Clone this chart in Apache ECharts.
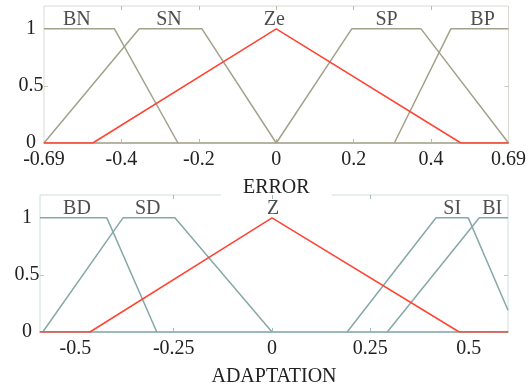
<!DOCTYPE html>
<html>
<head>
<meta charset="utf-8">
<script src="https://cdn.jsdelivr.net/npm/echarts@6/dist/echarts.min.js"></script>
<style>
    html,body{margin:0;padding:0;background:#fff;}
    #chart{width:529px;height:389px;}
</style>
</head>
<body>
<div id="chart"></div>
<script>
// ERROR panel: tick positions and what is printed under them
let errTickVals = [-0.6, -0.4, -0.2, 0, 0.2, 0.4, 0.6];
let errTickLabels = ['-0.69', '-0.4', '-0.2', '0', '0.2', '0.4', '0.69'];
// ADAPTATION panel ticks
let adaTickVals = [-0.5, -0.25, 0, 0.25, 0.5];
let adaTickLabels = ['-0.5', '-0.25', '0', '0.25', '0.5'];

// membership functions, ERROR
let bn = [[-0.6, 1], [-0.418, 1], [-0.254, 0]];
let sn = [[-0.6, 0], [-0.354, 1], [-0.192, 1], [0, 0]];
let ze = [[-0.6, 0], [-0.474, 0], [0, 1], [0.477, 0], [0.6, 0]];
let sp = [[0, 0], [0.195, 1], [0.374, 1], [0.6, 0]];
let bp = [[0.305, 0], [0.451, 1], [0.6, 1]];
let errNames = [[-0.515, 1.08, 'BN'], [-0.277, 1.08, 'SN'], [-0.005, 1.08, 'Ze'], [0.285, 1.08, 'SP'], [0.533, 1.08, 'BP']];

// membership functions, ADAPTATION
let bd = [[-0.59, 1], [-0.42, 1], [-0.293, 0]];
let sd = [[-0.583, 0], [-0.379, 1], [-0.247, 1], [0, 0]];
let z = [[-0.59, 0], [-0.463, 0], [0, 1], [0.476, 0], [0.6, 0]];
let si = [[0.191, 0], [0.417, 1], [0.499, 1], [0.6, 0.19]];
let bi = [[0.293, 0], [0.527, 1], [0.6, 1]];
let adaNames = [[-0.496, 1.08, 'BD'], [-0.316, 1.08, 'SD'], [0.003, 1.08, 'Z'], [0.458, 1.08, 'SI'], [0.56, 1.08, 'BI']];

let yTickVals = [0, 0.5, 1];

let chart = echarts.init(document.getElementById('chart'));
let font = "'Liberation Serif','DejaVu Serif',serif";
let olive = '#a2a28a';
let teal = '#86a8a6';
let red = '#ff4433';

function xAx(idx, vals, labels, min, max, name, lineColor, tick) {
    return [{
        type: 'value', gridIndex: idx, min: min, max: max, position: 'bottom',
        name: name, nameLocation: 'middle', nameGap: 35,
        nameTextStyle: {fontFamily: font, fontSize: 20, color: '#222',
            backgroundColor: '#fff', padding: [0, 22, 0, 22]},
        axisLine: {show: true, onZero: false, lineStyle: {color: lineColor, width: 1.5}},
        axisTick: {show: true, inside: true, length: 4, customValues: vals.slice(1, -1),
            lineStyle: {color: tick}},
        axisLabel: {customValues: vals, margin: 7, fontFamily: font, fontSize: 20, color: '#222',
            formatter: function (v) { return labels[vals.indexOf(v)]; }},
        splitLine: {show: false}
    }, {
        type: 'value', gridIndex: idx, min: min, max: max, position: 'top',
        axisLine: {show: false, onZero: false},
        axisTick: {show: true, inside: true, length: 4, customValues: vals.slice(1, -1),
            lineStyle: {color: tick}},
        axisLabel: {show: false}, splitLine: {show: false}
    }];
}

function yAx(idx, tick) {
    return [{
        type: 'value', gridIndex: idx, min: 0, max: 1.2, position: 'left',
        axisLine: {show: false, onZero: false},
        axisTick: {show: true, inside: true, length: 4, customValues: [0.5], lineStyle: {color: tick}},
        axisLabel: {customValues: yTickVals, align: 'center', margin: 13,
            fontFamily: font, fontSize: 20, color: '#222'},
        splitLine: {show: false}
    }, {
        type: 'value', gridIndex: idx, min: 0, max: 1.2, position: 'right',
        axisLine: {show: false, onZero: false},
        axisTick: {show: true, inside: true, length: 4, customValues: [0.5], lineStyle: {color: tick}},
        axisLabel: {show: false}, splitLine: {show: false}
    }];
}

function mf(data, xi, yi, color) {
    return {
        type: 'line', data: data, xAxisIndex: xi, yAxisIndex: yi,
        symbol: 'none', silent: true, animation: false, z: 3,
        lineStyle: {color: color, width: 1.5}
    };
}

function names(data, xi, yi) {
    return {
        type: 'scatter', data: data, xAxisIndex: xi, yAxisIndex: yi,
        symbolSize: 0, silent: true, animation: false,
        label: {show: true, position: 'inside', fontFamily: font, fontSize: 20, color: '#222',
            formatter: function (p) { return p.value[2]; }}
    };
}

let option = {
    animation: false,
    grid: [
        {left: 44, right: 17, top: 6, height: 137, show: true, borderColor: '#d9d9d2', borderWidth: 1},
        {left: 40, right: 21, top: 195, height: 137, show: true, borderColor: '#cddfdd', borderWidth: 1}
    ],
    xAxis: xAx(0, errTickVals, errTickLabels, -0.6, 0.6, 'ERROR', olive, '#b9b9a4')
        .concat(xAx(1, adaTickVals, adaTickLabels, -0.59, 0.6, 'ADAPTATION', teal, '#9fbcba')),
    yAxis: yAx(0, '#c9c9b4').concat(yAx(1, '#b4cccb')),
    series: [
        mf(bn, 0, 0, olive), mf(sn, 0, 0, olive), mf(sp, 0, 0, olive), mf(bp, 0, 0, olive),
        mf(ze, 0, 0, red),
        names(errNames, 0, 0),
        mf(bd, 2, 2, teal), mf(sd, 2, 2, teal), mf(si, 2, 2, teal), mf(bi, 2, 2, teal),
        mf(z, 2, 2, red),
        names(adaNames, 2, 2)
    ]
};
chart.setOption(option);
window.addEventListener('resize', function () { chart.resize(); });
</script>
</body>
</html>
